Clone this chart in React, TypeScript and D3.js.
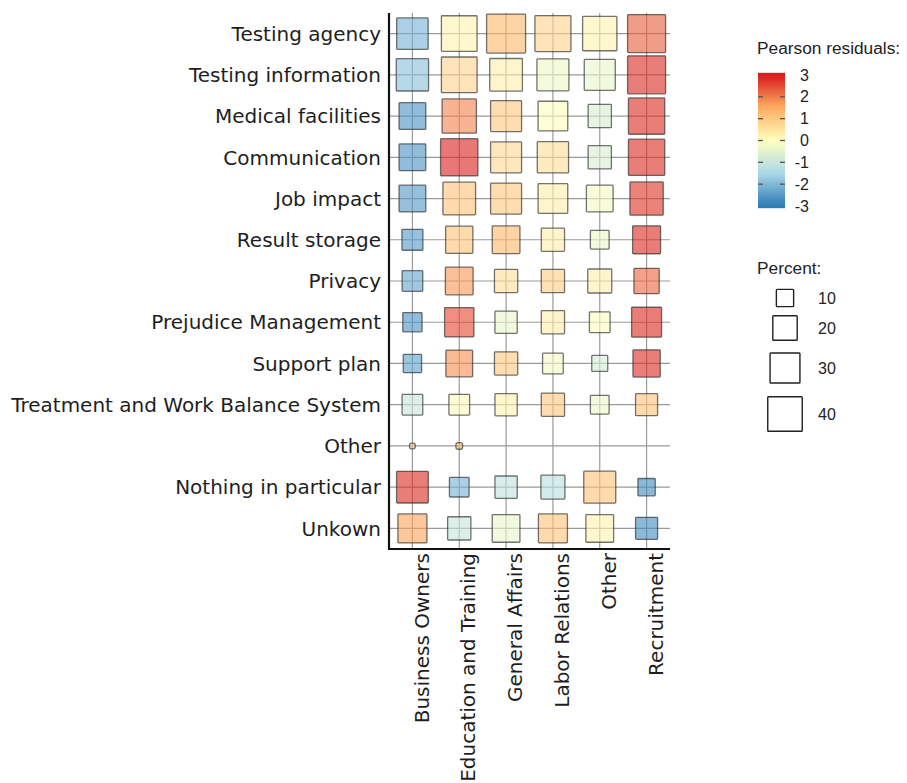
import React from "react";
import * as d3 from "d3";

const rows = [
  "Testing agency",
  "Testing information",
  "Medical facilities",
  "Communication",
  "Job impact",
  "Result storage",
  "Privacy",
  "Prejudice Management",
  "Support plan",
  "Treatment and Work Balance System",
  "Other",
  "Nothing in particular",
  "Unkown",
];

const cols = [
  "Business Owners",
  "Education and Training",
  "General Affairs",
  "Labor Relations",
  "Other",
  "Recruitment",
];

// percent values (row x column)
const percent: number[][] = [
  [33.3, 42.8, 51.1, 43.6, 39.5, 48.5],
  [35.1, 42.8, 35.9, 34.4, 32.3, 48.5],
  [24.0, 39.5, 32.3, 29.6, 18.2, 44.3],
  [24.0, 46.8, 32.3, 32.9, 18.2, 44.3],
  [24.0, 35.9, 32.3, 29.6, 24.0, 37.3],
  [14.8, 25.0, 25.8, 18.2, 11.8, 26.3],
  [14.4, 25.8, 18.2, 18.2, 19.4, 21.5],
  [12.5, 28.9, 16.7, 18.2, 14.4, 30.2],
  [11.3, 24.0, 18.2, 14.4, 8.6, 25.0],
  [14.4, 14.4, 16.7, 18.2, 11.8, 16.3],
  [1.1, 1.5, 0, 0, 0, 0],
  [33.8, 13.0, 16.7, 19.4, 34.4, 10.1],
  [28.3, 18.2, 25.8, 28.3, 25.8, 16.3],
];

// Pearson residuals (row x column)
const residuals: number[][] = [
  [-2.1, 0.2, 1.3, 0.8, 0.2, 2.3],
  [-1.9, 0.8, 0.3, -0.3, -0.4, 2.8],
  [-2.6, 1.9, 1.0, 0.0, -0.7, 2.8],
  [-2.6, 2.9, 0.7, 0.6, -0.7, 2.8],
  [-2.5, 1.1, 1.0, 0.3, -0.2, 2.7],
  [-2.5, 1.1, 1.3, 0.3, -0.3, 2.8],
  [-2.3, 1.7, 0.6, 0.9, 0.3, 2.2],
  [-2.6, 2.5, -0.4, 0.3, 0.0, 2.8],
  [-2.4, 1.8, 1.0, -0.2, -0.8, 2.8],
  [-1.0, 0.1, 0.2, 1.0, -0.3, 1.1],
  [1.0, 1.3, 0, 0, 0, 0],
  [2.8, -2.1, -1.1, -1.2, 1.1, -2.7],
  [1.6, -1.0, -0.4, 1.1, 0.2, -2.7],
];

const colorTicks = [3, 2, 1, 0, -1, -2, -3];
const sizeTicks = [10, 20, 30, 40];
const paletteStops = [-3, -1.5, 0, 1.5, 3];
const paletteColors = ["#2c7bb6", "#abd9e9", "#ffffbf", "#fdae61", "#d7191c"];

const FONT = "'DejaVu Sans', Verdana, sans-serif";
const LFONT = "'Liberation Sans', Arial, sans-serif";

export default function App() {
  const left = 389;
  const right = 670;
  const top = 13;
  const bottom = 549;

  const x = d3.scalePoint<string>().domain(cols).range([left, right]).padding(0.5);
  const y = d3.scalePoint<string>().domain(rows).range([top, bottom]).padding(0.5);
  const size = d3.scaleSqrt().domain([0, 40]).range([0, 34.5]);
  const color = d3
    .scaleLinear<string>()
    .domain(paletteStops)
    .range(paletteColors)
    .clamp(true);

  // legend
  const cbX = 758;
  const cbW = 27;
  const cbScale = d3.scaleLinear().domain([-3, 3]).range([206, 75]);
  const cbTop = cbScale(3.1);
  const cbBottom = cbScale(-3.1);
  const gradStops = d3.range(0, 1.0001, 0.05).map((t) => ({
    offset: t,
    col: color(3.1 - t * 6.2),
  }));

  const sizeLegendY = [298, 328, 368, 414];

  const cells: { r: string; c: string; p: number; v: number }[] = [];
  rows.forEach((r, i) =>
    cols.forEach((c, j) => {
      if (percent[i][j] > 0) cells.push({ r, c, p: percent[i][j], v: residuals[i][j] });
    })
  );

  return (
    <svg
      width={907}
      height={783}
      style={{ position: "absolute", left: 0, top: 0, background: "#fff" }}
    >
      <defs>
        <linearGradient id="cb" x1="0" y1="0" x2="0" y2="1">
          {gradStops.map((s, i) => (
            <stop key={i} offset={s.offset} stopColor={s.col} />
          ))}
        </linearGradient>
      </defs>
      <rect x={0} y={0} width={907} height={783} fill="#fff" />

      {/* grid */}
      {rows.map((r) => (
        <line key={"h" + r} x1={left} x2={right} y1={y(r)} y2={y(r)} stroke="#9a9a9a" strokeWidth={1.2} />
      ))}
      {cols.map((c) => (
        <line key={"v" + c} x1={x(c)} x2={x(c)} y1={top} y2={bottom} stroke="#9a9a9a" strokeWidth={1.2} />
      ))}

      {/* squares */}
      {cells.map((d, i) => {
        const s = size(d.p);
        const cx = x(d.c)!;
        const cy = y(d.r)!;
        return (
          <rect
            key={i}
            x={cx - s / 2}
            y={cy - s / 2}
            width={s}
            height={s}
            rx={s < 8 ? 2 : 0.8}
            fill={color(d.v)}
            fillOpacity={0.62}
            stroke="#2a2a2a"
            strokeOpacity={0.65}
            strokeWidth={1.3}
          />
        );
      })}

      {/* axes */}
      <line x1={left} x2={left} y1={top} y2={bottom + 1} stroke="#111" strokeWidth={2.2} />
      <line x1={left - 1} x2={right} y1={bottom} y2={bottom} stroke="#111" strokeWidth={2.2} />

      {/* y labels */}
      {rows.map((r) => (
        <text
          key={"yl" + r}
          x={381}
          y={y(r)}
          dy="0.36em"
          textAnchor="end"
          fontFamily={FONT}
          fontSize={20}
          fill="#1e1e1e"
        >
          {r}
        </text>
      ))}

      {/* x labels */}
      {cols.map((c) => (
        <text
          key={"xl" + c}
          transform={`translate(${x(c)! + 9},553) rotate(-90)`}
          dy="0.36em"
          textAnchor="end"
          fontFamily={FONT}
          fontSize={20}
          fill="#1e1e1e"
        >
          {c}
        </text>
      ))}

      {/* color legend */}
      <text x={757} y={48} dy="0.35em" fontFamily={LFONT} fontSize={17.3} fill="#222">
        Pearson residuals:
      </text>
      <rect x={cbX} y={cbTop} width={cbW} height={cbBottom - cbTop} fill="url(#cb)" />
      {colorTicks.map((t) => (
        <g key={"ct" + t}>
          {Math.abs(t) < 3 && (
            <>
              <line x1={cbX} x2={cbX + 5} y1={cbScale(t)} y2={cbScale(t)} stroke="#555" strokeWidth={1.3} />
              <line x1={cbX + cbW - 5} x2={cbX + cbW} y1={cbScale(t)} y2={cbScale(t)} stroke="#555" strokeWidth={1.3} />
            </>
          )}
          <text
            x={809}
            y={cbScale(t)}
            dy="0.35em"
            textAnchor="end"
            fontFamily={LFONT}
            fontSize={16}
            fill="#222"
          >
            {t}
          </text>
        </g>
      ))}

      {/* size legend */}
      <text x={757} y={268} dy="0.35em" fontFamily={LFONT} fontSize={17.3} fill="#222">
        Percent:
      </text>
      {sizeTicks.map((t, i) => {
        const s = size(t);
        return (
          <g key={"st" + t}>
            <rect
              x={785 - s / 2}
              y={sizeLegendY[i] - s / 2}
              width={s}
              height={s}
              rx={0.8}
              fill="#fff"
              stroke="#222"
              strokeWidth={1.4}
            />
            <text x={818} y={sizeLegendY[i]} dy="0.35em" fontFamily={LFONT} fontSize={16} fill="#222">
              {t}
            </text>
          </g>
        );
      })}
    </svg>
  );
}
